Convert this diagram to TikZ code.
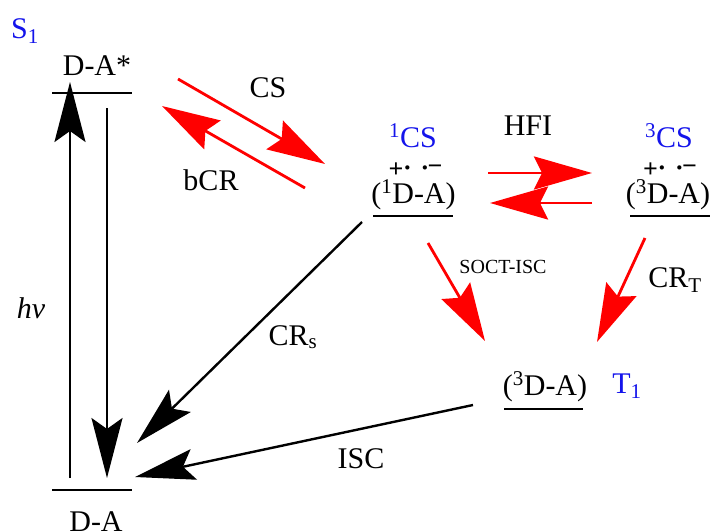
\documentclass[tikz,border=0pt]{standalone}
\usepackage{fontspec}
\setmainfont{Liberation Serif}
\usetikzlibrary{arrows.meta}
\definecolor{lblue}{RGB}{20,20,235}
\tikzset{
  txt/.style={inner sep=0pt, anchor=base, font=\fontsize{30}{32}\selectfont},
  bl/.style={txt, text=lblue},
  small/.style={inner sep=0pt, anchor=base, font=\fontsize{20}{22}\selectfont},
  chg/.style={inner sep=0pt, font=\fontsize{26}{26}\selectfont\bfseries},
  lvl/.style={line width=2.6pt},
  blk/.style={line width=2.4pt, -{Stealth[length=60pt,width=31pt,inset=11pt]}},
  rd/.style={line width=2.8pt, red, -{Stealth[length=58pt,width=33pt,inset=8pt]}}
}
\begin{document}
\begin{tikzpicture}[x=1pt,y=-1pt]
\useasboundingbox (0,0) rectangle (712,530);
% labels
\node[bl] (s1) at (25,38) {S\textsubscript{1}};
\node[txt] (dastar) at (97,75) {D-A*};
\node[txt] (da) at (96,531) {D-A};
\node[bl] (cs1) at (413,147) {\textsuperscript{1}CS};
\node[bl] (cs3) at (669,147) {\textsuperscript{3}CS};
\node[txt] (hfi) at (528,135) {HFI};
\node[txt] (rp1) at (413.5,203) {(\textsuperscript{1}D-A)};
\node[txt] (rp3) at (668,203) {(\textsuperscript{3}D-A)};
\node[txt] (t3) at (545,395) {(\textsuperscript{3}D-A)};
\node[bl] (t1) at (627,393) {T\textsubscript{1}};
\node[txt] (lcs) at (268,97) {CS};
\node[txt] (lbcr) at (211,190) {bCR};
\node[txt] (lhv) at (31,318) {\itshape hv};
\node[txt] (lcrs) at (293,345) {CR\textsubscript{s}};
\node[txt] (lcrt) at (675,287) {CR\textsubscript{T}};
\node[small] (lsoct) at (503,273) {SOCT-ISC};
\node[txt] (lisc) at (361,468) {ISC};
% charges
\node[chg] (p1) at (396,170) {+};
\node[chg] (d1) at (407.5,171) {\textperiodcentered};
\node[chg] (d2) at (425,171) {\textperiodcentered};
\node[chg] (m1) at (435,170) {\textminus};
\node[chg] (p3) at (650.5,170) {+};
\node[chg] (d3) at (662,171) {\textperiodcentered};
\node[chg] (d4) at (679.5,171) {\textperiodcentered};
\node[chg] (m3) at (689.5,170) {\textminus};
% levels
\draw[lvl] (52,93) coordinate (l1a) -- (132,93) coordinate (l1b);
\draw[lvl] (52,490) coordinate (l0a) -- (132,490) coordinate (l0b);
\draw[lvl] (373,216) coordinate (l2a) -- (453,216) coordinate (l2b);
\draw[lvl] (630,216) coordinate (l3a) -- (710,216) coordinate (l3b);
\draw[lvl] (504,409) coordinate (l4a) -- (583,409) coordinate (l4b);
% coordinates
\coordinate (hvS) at (70,478); \coordinate (hvE) at (70,82);
\coordinate (fS) at (107,108); \coordinate (fE) at (107,478);
\coordinate (crsS) at (362,222); \coordinate (crsE) at (137,443);
\coordinate (iscS) at (473,405); \coordinate (iscE) at (135,477);
\coordinate (csS) at (178,79); \coordinate (csE) at (325,164);
\coordinate (bcS) at (305,188); \coordinate (bcE) at (162,106);
\coordinate (h1S) at (488,173); \coordinate (h1E) at (592,173);
\coordinate (h2S) at (592,203); \coordinate (h2E) at (490,203);
\coordinate (soS) at (428,243); \coordinate (soE) at (485,341);
\coordinate (ctS) at (645,238); \coordinate (ctE) at (597,342);
% arrows
\draw[blk] (hvS) -- (hvE);
\draw[blk] (fS) -- (fE);
\draw[blk] (crsS) -- (crsE);
\draw[blk] (iscS) -- (iscE);
\draw[rd] (csS) -- (csE);
\draw[rd] (bcS) -- (bcE);
\draw[rd] (h1S) -- (h1E);
\draw[rd] (h2S) -- (h2E);
\draw[rd] (soS) -- (soE);
\draw[rd] (ctS) -- (ctE);
\end{tikzpicture}
\end{document}
